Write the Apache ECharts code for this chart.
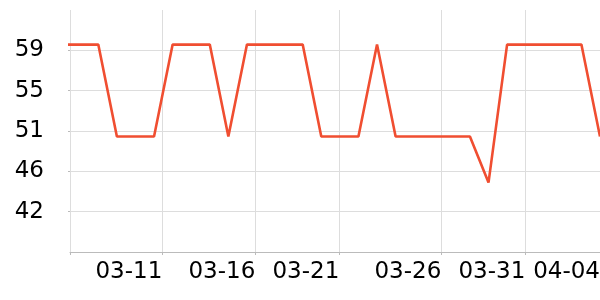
<!DOCTYPE html>
<html>
<head>
<meta charset="utf-8">
<script src="https://cdn.jsdelivr.net/npm/echarts@6/dist/echarts.min.js"></script>
<style>html,body{margin:0;padding:0;background:#fff}#c{width:600px;height:300px}</style>
</head>
<body>
<div id="c"></div>
<script>
// daily dates shown on the x axis (index = position on the axis)
var dates = ['03-06','03-07','03-08','03-09','03-10','03-11','03-12','03-13','03-14','03-15',
             '03-16','03-17','03-18','03-19','03-20','03-21','03-22','03-23','03-24','03-25',
             '03-26','03-27','03-28','03-29','03-30','03-31','04-01','04-02','04-03','04-04'];
var values = [60,60,60,50,50,50,60,60,60,50,
              60,60,60,60,50,50,50,60,50,50,
              50,50,50,45,60,60,60,60,60,50];
// x tick labels and where they sit (in day-index units)
var xTickLabels = ['03-11','03-16','03-21','03-26','03-31','04-04'];
var xTickPos = [5.445,10.45,14.97,20.46,24.98,29];
// y tick labels and their values
var yTickLabels = ['42','46','51','55','59'];
var yTickPos = [41.835,46.22,50.605,54.99,59.375];

var xMin = 0.477, xMax = 29;
var seriesData = values.map(function(v,i){ return [i, v]; });
var FONT = 'DejaVu Sans';

var chart = echarts.init(document.getElementById('c'), null, {renderer:'canvas'});
chart.setOption({
  animation: false,
  grid: {left: 70, right: 0, top: 10, bottom: 48, containLabel: false, outerBoundsMode: 'none'},
  xAxis: {
    type: 'value', min: xMin, max: xMax,
    axisLine: {show: true, lineStyle: {color: '#bbbbbb', width: 1}},
    axisTick: {show: true, length: 3, customValues: [xMin].concat(xTickPos), lineStyle: {color: '#bbbbbb'}},
    splitLine: {show: true, lineStyle: {color: '#dddddd', width: 1}},
    axisLabel: {
      show: true, customValues: xTickPos, align: 'right', margin: 9,
      fontFamily: FONT, fontSize: 23, color: '#000',
      formatter: function(v){
        for (var k = 0; k < xTickPos.length; k++) if (Math.abs(xTickPos[k]-v) < 1e-6) return xTickLabels[k];
        return '';
      }
    }
  },
  yAxis: {
    type: 'value', min: 37.45, max: 63.76,
    axisLine: {show: false},
    axisTick: {show: true, length: 2, customValues: yTickPos, lineStyle: {color: '#bbbbbb'}},
    splitLine: {show: true, lineStyle: {color: '#dddddd', width: 1}},
    axisLabel: {
      show: true, customValues: yTickPos, margin: 26,
      fontFamily: FONT, fontSize: 23, color: '#000',
      formatter: function(v){
        for (var k = 0; k < yTickPos.length; k++) if (Math.abs(yTickPos[k]-v) < 1e-6) return yTickLabels[k];
        return '';
      }
    }
  },
  series: [{
    type: 'line', data: seriesData, showSymbol: false, symbol: 'none',
    lineStyle: {color: '#f04e31', width: 2.6}, clip: true
  }]
});
</script>
</body>
</html>
